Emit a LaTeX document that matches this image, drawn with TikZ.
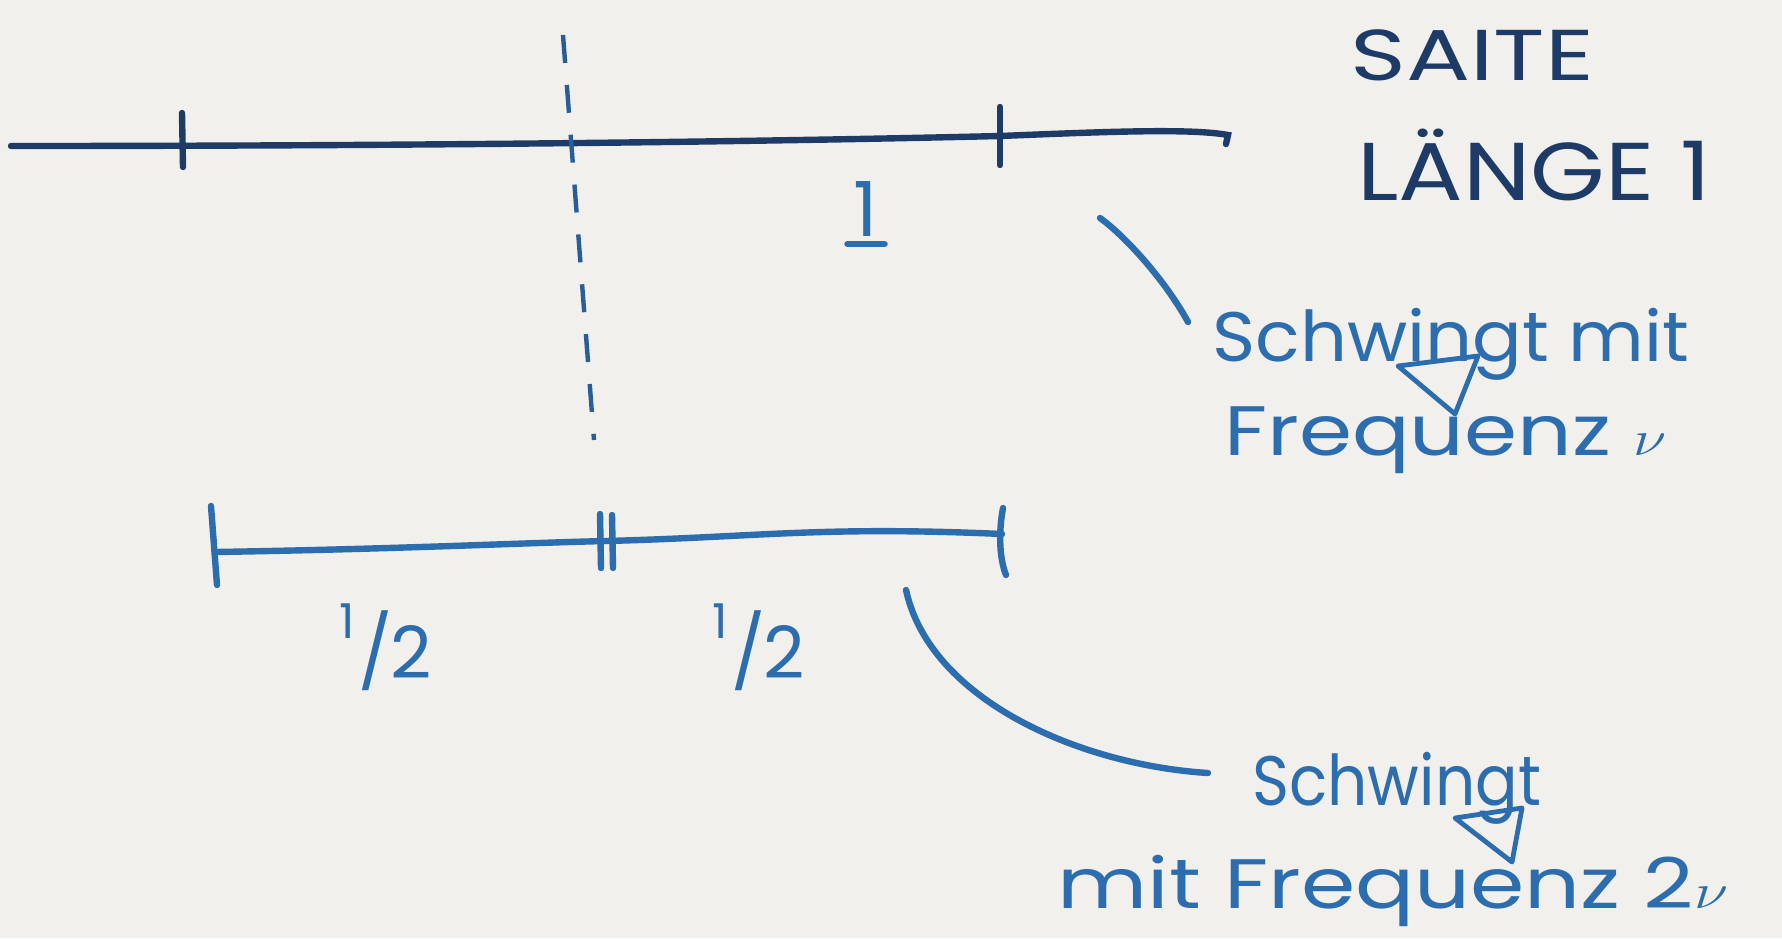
\documentclass[tikz,border=0pt]{standalone}
\usepackage{fontspec}
\setmainfont{Poppins}
\definecolor{paper}{HTML}{F2F0EC}
\definecolor{navy}{HTML}{1E3B68}
\definecolor{pen}{HTML}{2B6DAE}
\tikzset{
  navyline/.style={draw=navy, line width=3.2pt, line cap=round},
  blueline/.style={draw=pen, line width=3.2pt, line cap=round},
  thinpen/.style={draw=pen, line width=2.4pt, line cap=round, line join=round},
  dashln/.style={draw=pen!70!navy, line width=2.2pt, dash pattern=on 14pt off 11pt},
  note/.style={inner sep=0pt, text=pen, font=\fontsize{35}{40}\selectfont, anchor=base west},
  title/.style={inner sep=0pt, text=navy, anchor=base west},
  half/.style={inner sep=0pt, text=pen, font=\fontsize{36}{40}\selectfont, anchor=base},
}
\newcommand{\halftext}{\raisebox{0.55em}{\fontsize{24}{26}\selectfont 1}\kern0.04em/\kern-0.02em2}
\begin{document}
\begin{tikzpicture}[x=0.5pt,y=-0.5pt]
\fill[paper] (0,0) rectangle (1782,938);
\useasboundingbox (0,0) rectangle (1782,938);

% top string
\coordinate (s0) at (11,146);
\coordinate (s1) at (1000,136);
\coordinate (s2) at (1228,135);
\draw[navyline] (s0) .. controls (400,146) and (750,142) .. (s1)
  .. controls (1100,132) and (1190,128) .. (s2) -- (1226,144);
\draw[navyline] (182,113) -- (183,167);
\draw[navyline] (1000,107) -- (1000,165);

% dashed divider
\coordinate (d0) at (563,35);
\coordinate (d1) at (594,440);
\draw[dashln] (d0) -- (d1);

% label 1
\node[inner sep=0pt, text=pen, font=\fontsize{38}{44}\selectfont, anchor=base] (one) at (866,236) {1};
\draw[blueline] ([xshift=-3pt,yshift=-4pt]one.base west) -- ([xshift=3pt,yshift=-4pt]one.base east);

% title
\node[title, font=\fontsize{36}{42}\selectfont] (saite) at (1350,80) {\scalebox{1.32}[1]{SAITE}};
\node[title, font=\fontsize{41}{46}\selectfont] (laenge) at (1357,200) {\scalebox{1.17}[1]{LÄNGE 1}};

% note 1
\node[note] (n1a) at (1212,361) {\scalebox{1.05}[1]{Schwingt mit}};
\node[note] (n1b) at (1224,455) {\scalebox{1.22}[1]{Frequenz $\nu$}};
\coordinate (c1) at (1100,218);
\coordinate (c2) at (1188,322);
\draw[blueline] (c1) .. controls (1125,236) and (1165,280) .. (c2);
\draw[thinpen] (1398,366) -- (1478,356) -- (1455,414) -- cycle;

% bottom string
\coordinate (b0) at (215,552);
\coordinate (bm) at (606,541);
\coordinate (b1) at (1002,534);
\draw[blueline] (b0) .. controls (400,549) and (520,543) .. (bm)
  .. controls (760,537) and (820,526) .. (b1);
\draw[blueline] (211,506) -- (217,585);
\draw[blueline] (600,514) -- (601,568);
\draw[blueline] (612,515) -- (613,568);
\draw[blueline] (1003,508) .. controls (998,535) and (1000,560) .. (1006,575);

\node[half] (h1) at (386,678) {\halftext};
\node[half] (h2) at (759,678) {\halftext};

% note 2
\coordinate (c3) at (906,590);
\coordinate (c4) at (1208,773);
\draw[blueline] (c3) .. controls (930,700) and (1080,765) .. (c4);
\node[note] (n2a) at (1252,805) {\scalebox{0.9}[1]{Schwingt}};
\node[note] (n2b) at (1057,908) {\scalebox{1.25}[1]{mit Frequenz 2$\nu$}};
\draw[thinpen] (1455,818) -- (1522,808) -- (1512,862) -- cycle;
\end{tikzpicture}
\end{document}
